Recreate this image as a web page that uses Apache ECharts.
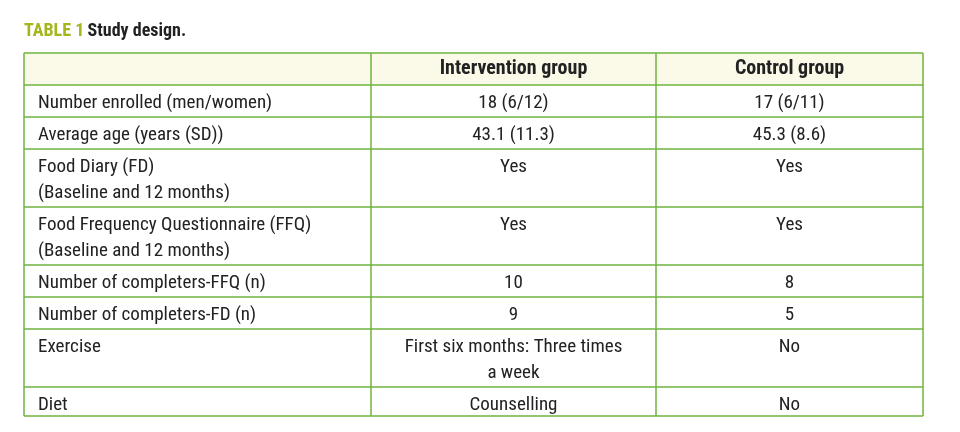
<!DOCTYPE html><html><head><meta charset="utf-8"><script src="https://cdn.jsdelivr.net/npm/echarts@6/dist/echarts.min.js"></script>
<style>html,body{margin:0;background:#fff}#c{width:960px;height:432px}</style></head><body><div id="c"></div><script>
const headers = ["", "Intervention group", "Control group"];
const rowLabels = ["Number enrolled (men/women)", "Average age (years (SD))", "Food Diary (FD)\n(Baseline and 12 months)", "Food Frequency Questionnaire (FFQ)\n(Baseline and 12 months)", "Number of completers-FFQ (n)", "Number of completers-FD (n)", "Exercise", "Diet"];
const intervention = ["18 (6/12)", "43.1 (11.3)", "Yes", "Yes", "10", "9", "First six months: Three times\na week", "Counselling"];
const control = ["17 (6/11)", "45.3 (8.6)", "Yes", "Yes", "8", "5", "No", "No"];

const colX = [24, 371, 656, 923];
const rowY = [53, 85, 117, 149, 207, 265, 297, 329, 387, 416];
const font = '"Liberation Sans Narrow","Roboto Condensed","Open Sans",sans-serif';
const green = '#6fb33f';
const els = [];
els.push({type:'rect',shape:{x:colX[0],y:rowY[0],width:colX[3]-colX[0],height:rowY[1]-rowY[0]},style:{fill:'#fbf9e8'}});
els.push({type:'text',x:24,y:22,style:{text:'{a|TABLE 1} {b|Study design.}',rich:{a:{fill:'#a5b51c',fontWeight:'bold',fontSize:18,fontFamily:font},b:{fill:'#222',fontWeight:'bold',fontSize:18,fontFamily:font}}}});
headers.forEach((h,i)=>{ if(!h) return;
  els.push({type:'text',x:(colX[i]+colX[i+1])/2,y:(rowY[0]+rowY[1])/2,style:{text:h,fill:'#222',fontWeight:'bold',fontSize:20,fontFamily:font,align:'center',verticalAlign:'middle'}});
});
rowLabels.forEach((lab,r)=>{
  const y=rowY[r+1]+5;
  const cells=[lab,intervention[r],control[r]];
  cells.forEach((t,c)=>{
    els.push({type:'text',x:c===0?colX[0]+14:(colX[c]+colX[c+1])/2,y:y,style:{text:t,fill:'#222',fontSize:19,fontFamily:font,lineHeight:26,align:c===0?'left':'center',verticalAlign:'top'}});
  });
});
rowY.forEach(y=>els.push({type:'line',shape:{x1:colX[0],y1:y,x2:colX[3],y2:y},style:{stroke:green,lineWidth:1.5}}));
colX.forEach(x=>els.push({type:'line',shape:{x1:x,y1:rowY[0],x2:x,y2:rowY[rowY.length-1]},style:{stroke:green,lineWidth:1.5}}));
const chart=echarts.init(document.getElementById('c'));
chart.setOption({animation:false,graphic:els});
</script></body></html>
